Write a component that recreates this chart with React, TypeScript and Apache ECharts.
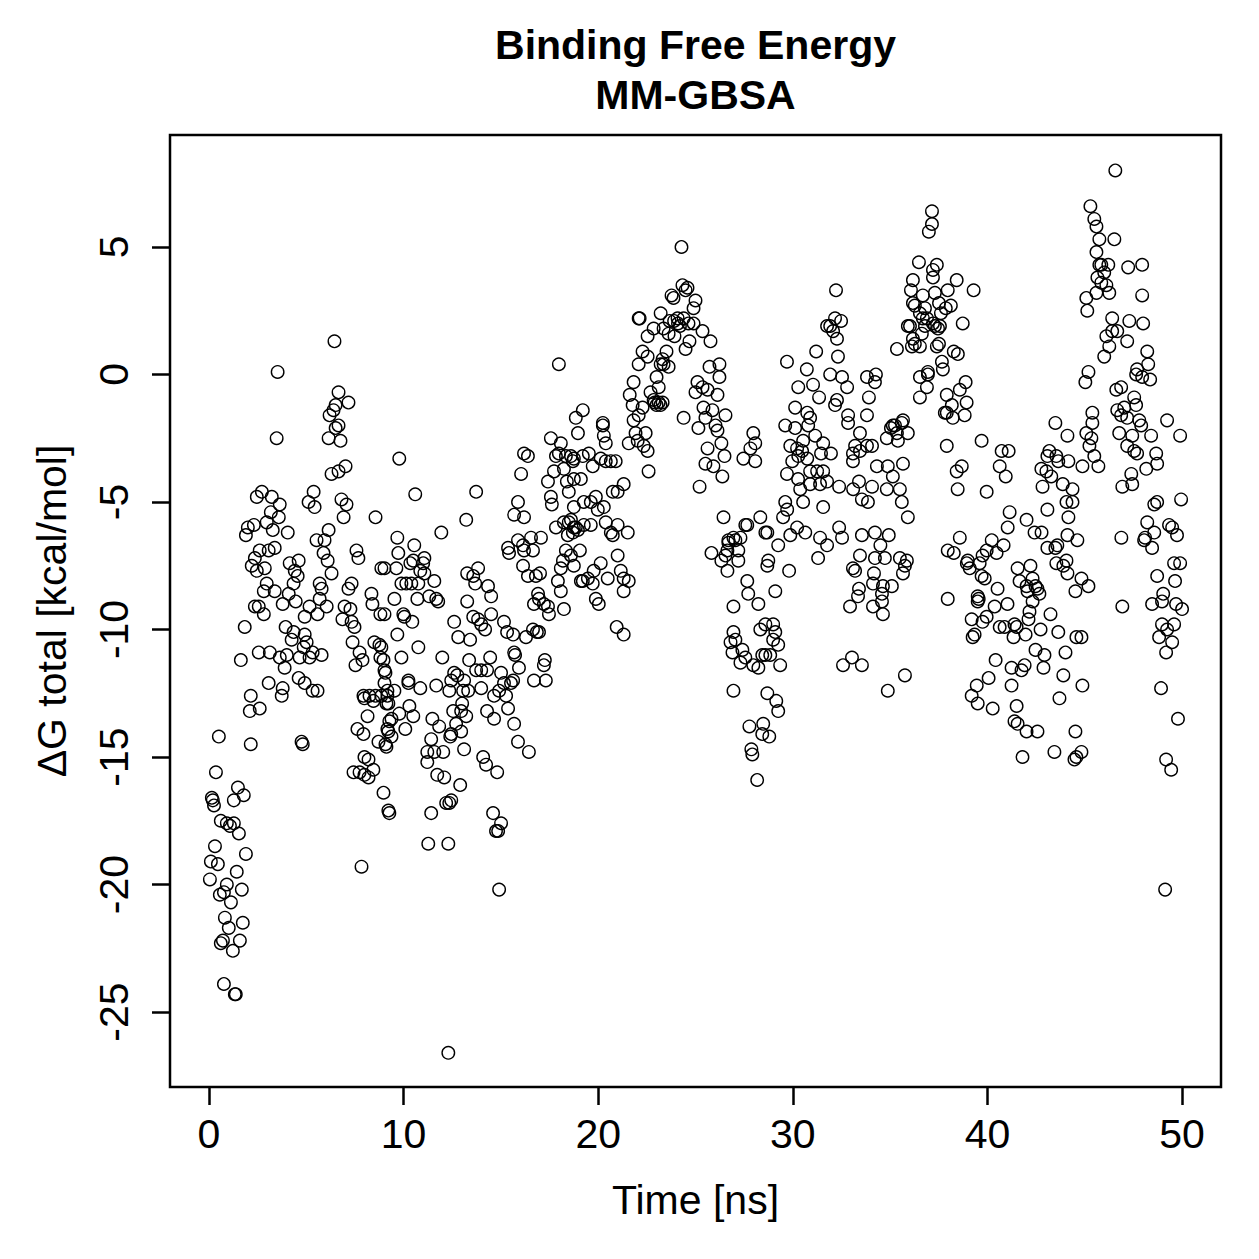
import React, { useEffect, useRef } from "react";
import * as echarts from "echarts";

// ---- data: [time (ns), dG total (kcal/mol)] ----
const pts0to5: number[][] = [
  [0.51,-14.2],[2.15,-14.5],[0.36,-15.6],[1.49,-16.2],[1.79,-16.5],[1.28,-16.7],[0.15,-16.6],[0.20,-16.7],[0.26,-16.9],[0.61,-17.5],[0.92,-17.6],[1.08,-17.7],[1.28,-17.6],[1.54,-18.0],[0.31,-18.5],[1.90,-18.8],[0.10,-19.1],[0.46,-19.2],[1.43,-19.5],[0.05,-19.8],[0.92,-20.0],[1.69,-20.2],[0.56,-20.4],[0.77,-20.3],[1.13,-20.7],[0.82,-21.3],[1.74,-21.5],[1.02,-21.7],[0.61,-22.3],[0.72,-22.2],[1.59,-22.2],[1.23,-22.6],[0.77,-23.9],[1.33,-24.3],[1.38,-24.3],[1.84,-9.9],[1.64,-11.2],[2.10,-13.2],[2.61,-13.1],[2.15,-12.6],
  [3.53,0.1],[3.48,-2.5],[2.72,-4.6],[2.46,-4.8],[3.23,-4.8],[3.64,-5.1],[3.18,-5.4],[2.97,-5.8],[3.59,-5.6],[3.28,-6.1],[4.05,-6.2],[2.31,-5.9],[2.00,-6.0],[1.90,-6.3],[3.38,-6.8],[3.07,-6.9],[2.61,-6.9],[2.36,-7.2],[2.20,-7.5],[2.46,-7.7],[2.87,-7.6],[4.15,-7.4],[4.61,-7.3],[4.41,-7.7],[4.56,-7.9],[4.35,-8.2],[2.97,-8.2],[2.82,-8.5],[3.38,-8.5],[3.79,-9.0],[4.10,-8.6],[4.46,-8.9],[2.36,-9.1],[2.56,-9.1],[2.82,-9.4],[3.94,-9.9],[4.35,-10.1],[4.25,-10.4],[4.92,-10.2],[4.87,-10.7],[2.56,-10.9],[3.13,-10.9],[3.64,-11.1],[4.00,-11.0],[3.89,-11.5],[4.66,-11.1],[3.07,-12.1],[3.79,-12.3],[3.74,-12.6],[4.61,-11.9],[4.92,-12.1],[4.76,-14.4],[4.82,-14.5],[4.92,-9.5],
];

const pts5to10: number[][] = [
  [5.02,-10.5],[5.33,-12.4],[5.58,-12.4],[5.33,-10.9],[5.17,-11.1],[5.79,-11.0],[5.38,-4.6],[5.12,-5.0],[5.43,-5.2],[5.53,-6.5],[6.15,-6.1],[5.94,-6.5],[5.89,-7.0],[6.10,-7.3],[6.30,-7.8],[5.69,-8.2],[5.79,-8.4],[5.69,-8.8],[6.05,-9.1],[5.58,-9.4],[5.17,-9.1],[6.45,1.3],[6.66,-0.7],[7.17,-1.1],[6.51,-1.2],[6.40,-1.4],[6.20,-1.6],[6.66,-2.0],[6.51,-2.1],[6.15,-2.5],[6.76,-2.6],[7.02,-3.6],[6.66,-3.8],[6.30,-3.9],[6.81,-4.9],[7.07,-5.1],[6.92,-5.6],[8.56,-5.6],[7.58,-6.9],[7.68,-7.2],[8.86,-7.6],[7.33,-8.2],[7.17,-8.4],[6.97,-9.1],[7.27,-9.2],[6.86,-9.6],[7.33,-9.7],[7.48,-9.9],[8.35,-8.6],[8.40,-9.0],[8.81,-9.4],[7.38,-10.5],[8.50,-10.5],[8.76,-10.6],[7.74,-10.9],[7.53,-11.4],[7.89,-11.2],[8.81,-11.1],[9.02,-11.6],[7.94,-12.6],[8.25,-12.6],[8.56,-12.6],[8.86,-12.6],[9.17,-12.6],[7.99,-12.7],[8.45,-12.8],[9.12,-12.9],[8.15,-13.4],[7.63,-13.9],[7.94,-14.1],[9.27,-13.6],[9.22,-14.0],[9.38,-14.2],[8.71,-14.4],[9.12,-14.6],[7.99,-15.0],[8.20,-15.1],[8.45,-15.5],[7.43,-15.6],[7.74,-15.6],[7.99,-15.7],[8.20,-15.8],[8.97,-16.4],[9.22,-17.1],[9.27,-17.2],[7.84,-19.3],[9.78,-3.3],[9.68,-6.4],[9.73,-7.0],[9.63,-7.6],[9.02,-7.6],[9.89,-8.2],[9.53,-8.8],[9.02,-9.4],[9.68,-10.2],[9.89,-11.1],[8.86,-10.7],[8.97,-11.2],[9.07,-11.7],[9.02,-12.1],[9.17,-12.4],[9.53,-12.4],[9.22,-12.9],[9.78,-13.3],[9.38,-13.5],[9.17,-13.9],[9.07,-14.5],
];

const pts10to15: number[][] = [
  [10.60,-4.7],[13.73,-4.6],[13.22,-5.7],[11.94,-6.2],[10.55,-6.7],[10.50,-7.3],[10.35,-7.4],[11.07,-7.2],[11.01,-7.4],[10.86,-7.7],[11.07,-7.8],[10.14,-8.2],[10.40,-8.2],[10.76,-8.2],[11.58,-8.1],[10.71,-8.8],[11.32,-8.7],[11.68,-8.8],[11.78,-8.9],[9.99,-9.4],[10.04,-9.5],[10.45,-9.7],[10.76,-10.7],[11.99,-11.1],[12.60,-9.7],[12.81,-10.3],[13.42,-10.4],[13.27,-8.9],[13.58,-9.5],[13.83,-9.6],[13.99,-9.8],[14.19,-10.0],[14.50,-9.4],[13.27,-7.8],[13.58,-7.9],[13.68,-8.2],[13.83,-7.6],[14.34,-8.3],[14.50,-8.7],[13.37,-11.2],[12.60,-11.7],[12.76,-11.8],[12.45,-12.0],[11.68,-12.2],[10.86,-12.3],[10.25,-12.0],[10.25,-12.1],[13.11,-12.0],[13.32,-12.4],[12.35,-12.4],[13.06,-12.4],[13.73,-11.6],[13.99,-11.6],[14.29,-11.6],[14.45,-11.1],[13.99,-12.3],[14.65,-12.6],[14.91,-12.4],[13.01,-12.9],[12.96,-13.2],[13.22,-13.4],[12.55,-13.2],[12.70,-13.7],[12.96,-14.0],[12.45,-14.1],[14.29,-13.2],[14.65,-13.5],[10.30,-13.0],[10.50,-13.4],[10.09,-13.9],[11.48,-13.5],[11.83,-13.8],[11.42,-14.3],[11.22,-14.8],[11.58,-14.8],[11.22,-15.2],[12.04,-14.8],[12.40,-14.2],[13.11,-14.7],[14.09,-15.0],[14.24,-15.3],[14.81,-15.6],[11.73,-15.7],[12.09,-15.8],[12.91,-16.1],[12.19,-16.8],[12.45,-16.7],[12.35,-16.8],[11.42,-17.2],[14.60,-17.2],[14.75,-17.9],[14.86,-17.9],[11.27,-18.4],[12.30,-18.4],[14.91,-20.2],[12.30,-26.6],
];

const pts15to21: number[][] = [
  [15.01,-17.6],[15.16,-12.1],[15.27,-12.6],[15.52,-12.1],[15.63,-12.0],[15.01,-11.7],[15.68,-10.9],[15.73,-11.0],[15.93,-11.5],[16.70,-12.0],[17.31,-12.0],[17.21,-11.4],[17.26,-11.2],[15.37,-13.1],[15.68,-13.7],[15.88,-14.4],[16.44,-14.8],[15.16,-9.7],[15.32,-10.1],[15.63,-10.2],[16.19,-3.1],[16.39,-3.2],[16.04,-3.9],[17.83,-3.2],[17.98,-3.1],[18.34,-3.2],[18.60,-3.2],[18.70,-3.4],[17.42,-4.2],[17.73,-3.8],[17.57,-4.8],[17.62,-5.1],[18.24,-3.7],[18.39,-4.2],[18.49,-4.6],[18.75,-4.1],[15.88,-5.0],[15.68,-5.5],[16.19,-5.6],[17.83,-6.0],[18.24,-5.8],[18.49,-5.8],[18.70,-6.2],[18.44,-6.3],[18.75,-6.0],[18.96,-6.1],[17.06,-6.4],[16.55,-6.4],[16.14,-6.7],[16.19,-6.9],[16.65,-6.9],[15.88,-6.5],[15.37,-6.8],[15.42,-7.0],[18.34,-6.9],[18.19,-7.3],[18.60,-7.1],[18.75,-7.5],[18.08,-7.6],[16.14,-7.5],[16.39,-7.9],[16.80,-7.9],[17.01,-7.8],[17.93,-8.1],[18.08,-8.5],[18.24,-9.2],[19.11,-8.1],[16.91,-8.6],[16.96,-8.8],[17.21,-9.0],[17.42,-9.1],[17.47,-9.4],[16.70,-9.0],[17.57,-2.5],[17.98,0.4],[18.08,-2.7],[16.29,-10.3],[16.85,-10.1],[16.65,-10.0],[16.96,-10.1],
  [19.21,-1.4],[18.85,-1.7],[18.96,-2.3],[20.24,-1.9],[20.24,-2.0],[20.29,-2.4],[20.39,-2.7],[18.75,-3.3],[19.21,-3.2],[19.52,-3.1],[19.72,-3.6],[20.13,-3.3],[20.39,-3.4],[20.65,-3.4],[20.90,-3.4],[19.11,-4.1],[19.26,-5.0],[19.62,-5.0],[19.88,-4.8],[19.98,-5.3],[20.29,-5.2],[20.75,-4.6],[21.00,-4.6],[21.31,-4.3],[18.75,-5.2],[18.60,-5.7],[18.85,-6.0],[19.26,-5.9],[19.62,-5.9],[20.39,-5.8],[20.65,-6.2],[20.75,-6.3],[21.00,-5.9],[21.52,-6.2],[19.06,-6.9],[21.00,-7.1],[19.21,-8.1],[19.47,-8.0],[19.77,-7.7],[20.13,-7.4],[19.72,-8.2],[20.49,-8.0],[21.16,-7.7],[21.31,-8.0],[21.57,-8.1],[21.31,-8.5],[19.88,-8.8],[20.03,-9.0],[20.95,-9.9],[21.31,-10.2],
];

const pts21to29: number[][] = [
  [24.28,5.0],[24.33,3.5],[24.59,3.4],[24.49,3.3],[23.77,3.1],[23.87,3.0],[25.00,2.9],[24.90,2.6],[22.08,2.2],[22.13,2.2],[23.21,2.4],[23.67,2.1],[24.08,2.2],[24.39,2.2],[24.64,2.0],[24.90,2.0],[25.36,1.7],[25.77,1.3],[22.85,1.8],[22.54,1.5],[23.36,1.8],[23.62,1.6],[23.92,1.5],[24.49,1.0],[24.69,1.3],[23.51,0.9],[23.31,0.6],[22.28,0.9],[22.54,0.7],[22.08,0.4],[23.36,0.4],[23.62,0.3],[23.21,0.4],[21.82,-0.3],[23.00,-0.1],[23.11,-0.5],[22.69,-0.7],[22.85,-1.0],[23.11,-1.1],[23.31,-1.1],[21.62,-0.8],[21.77,-1.2],[22.28,-1.3],[22.08,-1.6],[21.82,-1.8],[21.92,-2.3],[21.57,-2.7],[22.03,-2.6],[22.44,-2.3],[22.34,-2.8],[22.54,-3.0],[22.59,-3.8],[24.39,-1.7],[25.10,-0.3],[25.00,-0.7],[25.36,-0.5],[25.62,-0.6],[25.72,0.3],[26.23,0.4],[26.23,-0.1],[26.13,-0.8],[25.41,-1.3],[25.87,-1.4],[26.54,-1.6],[25.51,-1.7],[25.15,-2.1],[26.13,-2.2],[26.03,-2.0],[26.33,-2.7],[25.62,-2.9],[26.49,-3.2],[25.51,-3.5],[25.92,-3.6],[26.38,-4.0],[25.21,-4.4],[27.97,-2.3],[28.07,-2.7],[27.82,-2.9],[27.46,-3.3],[28.07,-3.4],[26.44,-5.6],[27.56,-5.9],[28.33,-5.6],[28.59,-6.2],[26.69,-6.5],[26.95,-6.4],[27.31,-6.4],[26.64,-6.9],[27.20,-6.9],[25.82,-7.0],[26.33,-7.3],[27.20,-7.3],[26.64,-7.7],[27.66,-8.1],[27.71,-8.6],[26.95,-9.1],[28.23,-9.0],[28.74,-7.3],[28.69,-7.5],
  [22.90,-1.1],[23.00,-1.2],[23.20,-1.2],[24.10,2.0],[24.20,1.9],[23.90,2.1],
];

const pts26to36: number[][] = [
  [32.17,2.2],[31.92,1.9],[32.07,1.7],[32.27,1.4],[31.76,1.9],[32.48,2.1],[32.22,3.3],[31.20,0.9],[32.32,0.7],[29.70,0.5],[30.72,0.2],[31.92,0.0],[32.53,-0.1],[32.79,-0.5],[32.27,-1.0],[32.17,-1.2],[30.28,-0.5],[31.04,-0.4],[31.35,-0.9],[32.84,-1.6],[32.84,-1.9],[33.81,-1.6],[33.81,-0.1],[34.27,0.0],[34.22,-0.3],[33.91,-0.9],[30.12,-1.3],[30.74,-1.5],[30.89,-1.7],[30.79,-2.0],[29.61,-2.0],[30.12,-2.1],[31.15,-2.4],[31.56,-2.7],[30.53,-2.6],[29.87,-2.8],[30.22,-2.9],[30.48,-3.0],[30.28,-3.2],[29.97,-3.4],[31.45,-3.1],[31.96,-3.1],[29.70,-3.9],[30.27,-4.1],[30.74,-3.3],[30.89,-3.8],[31.25,-3.8],[31.56,-3.8],[31.76,-4.2],[30.89,-4.3],[31.40,-4.3],[30.38,-4.5],[30.53,-5.0],[29.61,-5.0],[29.71,-5.3],[29.50,-5.6],[29.87,-6.3],[30.22,-6.0],[30.64,-6.2],[31.56,-5.2],[31.40,-6.4],[31.76,-6.7],[31.30,-7.2],[29.25,-6.7],[29.81,-7.7],[28.69,-6.2],[27.66,-5.9],[27.05,-6.5],[26.69,-6.6],[26.54,-7.1],[29.10,-8.5],[33.45,-2.3],[33.20,-2.8],[33.81,-2.8],[34.07,-2.8],[33.09,-3.1],[33.09,-3.4],[33.45,-3.0],[35.14,-2.0],[35.35,-2.3],[35.60,-1.9],[35.91,-2.3],[34.83,-2.5],[35.40,-2.6],[35.25,-2.0],[35.04,-2.1],[34.32,-3.6],[34.88,-3.6],[35.14,-4.0],[35.66,-3.5],[34.83,-4.5],[35.50,-4.5],[35.60,-5.0],[35.91,-5.6],[32.38,-4.4],[33.10,-4.5],[33.40,-4.2],[34.07,-4.4],[33.55,-4.9],[33.86,-5.0],[32.38,-6.0],[32.53,-6.4],[33.55,-6.3],[34.22,-6.2],[34.93,-6.3],[34.50,-6.7],[33.45,-7.1],[33.09,-7.6],[33.20,-7.7],[34.22,-7.2],[34.73,-7.2],[35.50,-7.2],[35.86,-7.3],[35.76,-7.5],[35.66,-7.8],[34.17,-7.8],[34.12,-8.2],[34.63,-8.3],[35.09,-8.3],[34.58,-8.6],[33.40,-8.4],[33.35,-8.7],[32.94,-9.1],[34.12,-9.1],[34.58,-8.9],[34.63,-9.4],
  [26.95,-10.1],[27.05,-10.4],[26.80,-10.5],[26.90,-10.9],[27.41,-10.8],[27.56,-11.1],[27.31,-11.3],[27.97,-11.4],[28.23,-11.5],[28.33,-10.0],[28.59,-9.8],[28.99,-9.8],[29.10,-10.1],[29.25,-10.6],[28.84,-11.0],[28.59,-11.0],[28.43,-11.0],[28.99,-10.4],[29.35,-11.4],[26.95,-12.4],[28.69,-12.5],[29.15,-12.8],[29.25,-13.2],[27.77,-13.8],[28.48,-13.7],[28.43,-14.1],[28.79,-14.2],[27.87,-14.7],[27.92,-14.9],[28.17,-15.9],[32.58,-11.4],[33.04,-11.1],[33.55,-11.4],[34.88,-12.4],[35.76,-11.8],[37.96,-6.9],[37.96,-8.8],
];

const pts36to43: number[][] = [
  [36.17,2.8],[36.53,2.4],[36.89,2.2],[37.20,2.0],[37.46,1.8],[35.91,1.9],[36.17,1.4],[36.53,1.1],[35.35,1.0],[37.40,1.1],[37.66,0.5],[37.71,0.2],[36.53,-0.1],[36.94,0.0],[36.89,-0.5],[36.53,-0.9],[37.91,-0.8],[37.91,-1.5],[37.91,-2.8],[37.15,6.4],[37.15,5.9],[36.99,5.6],[36.48,4.4],[37.40,4.3],[37.20,4.1],[37.20,3.8],[36.17,3.7],[36.07,3.3],[36.68,3.1],[37.30,3.2],[37.96,3.3],[38.42,3.7],[39.29,3.3],[36.27,2.7],[36.79,2.6],[37.51,2.8],[37.86,2.6],[38.12,2.7],[37.61,2.4],[36.02,1.9],[36.68,2.2],[36.79,1.9],[36.63,1.6],[37.30,1.9],[37.56,1.9],[38.73,2.0],[36.27,1.2],[36.12,1.1],[37.51,1.2],[38.27,0.9],[38.48,0.8],[36.94,0.1],[38.88,-0.3],[38.58,-0.6],[38.93,-1.1],[38.17,-1.2],[37.81,-1.5],[38.83,-1.6],[38.22,-1.7],[35.66,-1.8],[39.70,-2.6],[40.73,-3.0],[41.09,-3.0],[40.63,-3.6],[40.94,-4.0],[38.68,-3.6],[38.42,-3.8],[38.47,-4.5],[39.96,-4.6],[41.14,-5.4],[41.04,-6.0],[42.01,-5.7],[42.42,-6.2],[42.78,-6.2],[38.58,-6.4],[38.27,-7.0],[38.99,-7.3],[40.22,-6.5],[39.96,-6.9],[40.47,-7.0],[40.83,-6.7],[39.75,-7.1],[38.94,-7.4],[39.09,-7.6],[39.60,-7.4],[39.70,-7.9],[39.86,-8.0],[39.50,-8.7],[40.52,-8.4],[41.55,-7.6],[42.21,-7.5],[41.65,-8.1],[42.32,-8.0],[42.57,-8.4],[42.67,-8.6],[42.06,-8.5],
];

const pts39to46: number[][] = [
  [45.29,6.6],[45.49,6.1],[45.60,5.8],[45.75,5.3],[45.60,4.8],[45.75,4.3],[45.65,3.8],[45.60,3.2],[45.08,3.0],[45.13,2.5],[45.19,0.1],[45.03,-0.3],[45.39,-1.5],[45.39,-1.9],[45.08,-2.3],[45.34,-2.5],[45.24,-2.8],[45.49,-3.2],[44.88,-3.6],[45.70,-3.6],[43.49,-1.9],[44.11,-2.4],[43.18,-3.0],[43.54,-3.2],[43.08,-3.2],[43.64,-3.4],[44.16,-3.4],[42.77,-3.7],[43.03,-3.8],[43.28,-4.0],[43.87,-4.3],[44.37,-4.5],[42.83,-4.4],[44.06,-5.0],[44.37,-5.0],[43.08,-5.3],[44.16,-5.6],[44.11,-6.3],[44.62,-6.5],[43.49,-6.8],[43.08,-6.8],[43.59,-6.7],[43.54,-7.4],[44.06,-7.3],[43.90,-7.5],[44.11,-7.8],[44.83,-8.0],[45.19,-8.3],[44.52,-8.5],
  [42.47,-8.3],[42.01,-8.3],[42.32,-8.9],[42.16,-9.3],[42.11,-9.6],[43.24,-9.4],[42.73,-10.0],[41.96,-10.2],[41.34,-10.3],[41.03,-9.0],[39.55,-8.8],[39.50,-8.9],[39.19,-9.6],[39.96,-9.5],[39.75,-9.7],[40.37,-9.1],[40.63,-9.9],[40.88,-9.9],[41.39,-9.8],[41.50,-9.9],[39.24,-10.3],[39.34,-10.2],[43.64,-10.1],[44.57,-10.3],[44.83,-10.3],[42.47,-10.8],[42.93,-11.0],[44.01,-10.9],[40.42,-11.2],[41.24,-11.5],[41.91,-11.4],[41.75,-11.6],[42.88,-11.5],[40.06,-11.9],[39.45,-12.2],[39.19,-12.6],[39.50,-12.9],[41.24,-12.2],[40.27,-13.1],[41.50,-13.0],[41.39,-13.6],[41.55,-13.7],[42.01,-14.0],[42.57,-14.0],[43.90,-11.8],[43.70,-12.7],[44.88,-12.2],[44.52,-14.0],[41.80,-15.0],[43.44,-14.8],[44.83,-14.8],[44.57,-15.0],[44.47,-15.1],
];

const pts46to50: number[][] = [
  [46.77,-2.3],[46.93,-4.4],[46.88,-6.4],[46.93,-9.1],
  [46.57,8.0],[46.52,5.3],[45.85,4.3],[46.21,4.3],[46.00,4.0],[45.85,3.6],[46.11,3.5],[46.26,3.2],[47.23,4.2],[47.95,4.3],[47.95,3.1],[46.41,2.2],[47.29,2.1],[48.00,2.0],[46.41,1.7],[46.11,1.5],[46.67,1.7],[46.26,1.1],[46.00,0.7],[47.18,1.3],[48.21,0.9],[48.26,0.4],[47.69,0.2],[47.64,0.0],[47.95,-0.1],[48.36,-0.2],[46.87,-0.5],[46.62,-0.6],[47.54,-0.9],[47.64,-1.2],[47.03,-1.3],[46.67,-1.4],[46.87,-1.6],[47.18,-1.7],[47.80,-1.8],[47.90,-2.0],[49.23,-1.8],[49.90,-2.4],[47.44,-2.4],[47.18,-2.8],[48.41,-2.4],[47.54,-3.0],[47.69,-3.1],[48.67,-3.1],[48.72,-3.5],[48.16,-3.7],[47.39,-3.9],[47.44,-4.3],[49.95,-4.9],[48.72,-5.0],[48.57,-5.1],[48.21,-5.8],[48.57,-6.2],[48.10,-6.4],[48.46,-6.8],[49.33,-5.9],[49.49,-6.0],[49.74,-6.3],[49.59,-7.4],[49.90,-7.4],
  [48.05,-6.5],[48.72,-7.9],[49.64,-8.1],[49.03,-8.6],[48.97,-8.9],[48.46,-9.0],[49.69,-9.0],[50.00,-9.2],[48.97,-9.8],[49.59,-9.8],[49.23,-10.0],[48.82,-10.3],[49.49,-10.5],[49.18,-10.9],[48.92,-12.3],[49.79,-13.5],[49.18,-15.1],[49.44,-15.5],[49.13,-20.2],
];

const xTicks = [0, 10, 20, 30, 40, 50];
const yTicks = [-25, -20, -15, -10, -5, 0, 5];
const titleLines = ["Binding Free Energy", "MM-GBSA"];
const xTitle = "Time [ns]";
const yTitle = "ΔG total [kcal/mol]";

const FONT = "'Liberation Sans', Arial, Helvetica, sans-serif";

export default function App() {
  const ref = useRef<HTMLDivElement>(null);
  useEffect(() => {
    if (!ref.current) return;
    const chart = echarts.init(ref.current, undefined, { renderer: "svg" });
    const all = [
      ...pts0to5, ...pts5to10, ...pts10to15, ...pts15to21, ...pts21to29,
      ...pts26to36, ...pts36to43, ...pts39to46, ...pts46to50,
    ];
    const gl = 170, gt = 135, gr = 1221, gb = 1087;
    chart.setOption({
      animation: false,
      backgroundColor: "#fff",
      grid: {
        left: gl, top: gt, width: gr - gl, height: gb - gt,
        show: true, borderColor: "#000", borderWidth: 2.5, backgroundColor: "transparent",
      },
      xAxis: {
        type: "value", min: -2, max: 52,
        splitLine: { show: false },
        axisLine: { show: false, onZero: false },
        axisTick: { show: true, length: 18, lineStyle: { color: "#000", width: 2.5 }, customValues: xTicks },
        axisLabel: { customValues: xTicks, fontSize: 41, color: "#000", fontFamily: FONT, margin: 26 },
      },
      yAxis: {
        type: "value", min: -27.94, max: 9.39,
        splitLine: { show: false },
        axisLine: { show: false, onZero: false },
        axisTick: { show: true, length: 18, lineStyle: { color: "#000", width: 2.5 }, customValues: yTicks },
        axisLabel: { customValues: yTicks, fontSize: 41, color: "#000", fontFamily: FONT, margin: 36, rotate: 90 },
      },
      graphic: [
        { type: "text", x: (gl + gr) / 2, y: 45, style: { text: titleLines[0], font: `bold 41px ${FONT}`, fill: "#000", textAlign: "center", textVerticalAlign: "middle" } },
        { type: "text", x: (gl + gr) / 2, y: 95, style: { text: titleLines[1], font: `bold 41px ${FONT}`, fill: "#000", textAlign: "center", textVerticalAlign: "middle" } },
        { type: "text", x: (gl + gr) / 2, y: 1200, style: { text: xTitle, font: `41px ${FONT}`, fill: "#000", textAlign: "center", textVerticalAlign: "middle" } },
        { type: "text", x: 52, y: (gt + gb) / 2, rotation: Math.PI / 2, style: { text: yTitle, font: `41px ${FONT}`, fill: "#000", textAlign: "center", textVerticalAlign: "middle" } },
      ],
      series: [
        {
          type: "scatter",
          data: all,
          symbol: "circle",
          symbolSize: 12.5,
          silent: true,
          emphasis: { disabled: true },
          itemStyle: { color: "rgba(0,0,0,0)", borderColor: "#000", borderWidth: 1.4, opacity: 1 },
        },
      ],
    });
    return () => chart.dispose();
  }, []);
  return (
    <div
      ref={ref}
      style={{ position: "absolute", left: 0, top: 0, width: 1259, height: 1259, background: "#fff" }}
    />
  );
}
